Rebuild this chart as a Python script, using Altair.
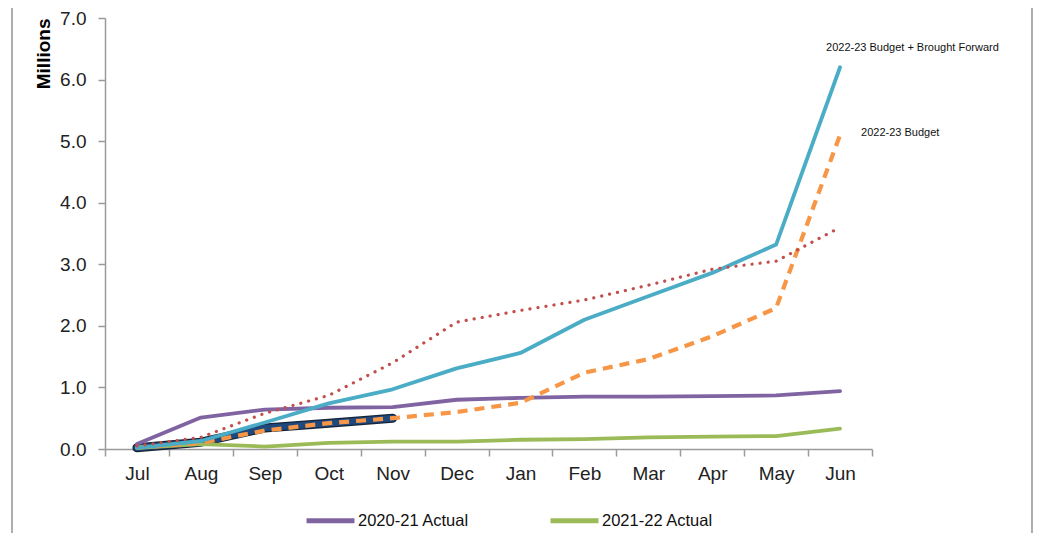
import altair as alt
import pandas as pd

months = ["Jul", "Aug", "Sep", "Oct", "Nov", "Dec", "Jan", "Feb", "Mar", "Apr", "May", "Jun"]

actual_2020_21 = [0.08, 0.51, 0.64, 0.67, 0.68, 0.80, 0.83, 0.85, 0.85, 0.86, 0.87, 0.94]
actual_2021_22 = [0.02, 0.08, 0.04, 0.10, 0.12, 0.12, 0.15, 0.16, 0.19, 0.20, 0.21, 0.33]
budget_bf_2022_23 = [0.02, 0.13, 0.43, 0.74, 0.97, 1.31, 1.56, 2.10, 2.48, 2.86, 3.32, 6.20]
budget_2022_23 = [0.02, 0.10, 0.30, 0.42, 0.50, 0.60, 0.75, 1.24, 1.46, 1.83, 2.29, 5.10]
forecast_2022_23 = [0.05, 0.19, 0.58, 0.87, 1.40, 2.06, 2.25, 2.42, 2.66, 2.92, 3.05, 3.60]
actual_2022_23 = [0.02, 0.11, 0.34, 0.42, 0.50]

series_names = ["2020-21 Actual", "2021-22 Actual", "2022-23 Actual",
                "2022-23 Budget", "2022-23 Budget + Brought Forward", "2022-23 Forecast"]
series_colors = ["#8064A2", "#9BBB59", "#1F497D", "#F79646", "#4BACC6", "#C0504D"]

label_names = ["2022-23 Budget + Brought Forward", "2022-23 Budget"]
label_values = [6.52, 5.13]
label_months = ["Jun", "Jun"]
label_dx = [-14, 21]

def frame(name, values):
    return pd.DataFrame({"month": months[:len(values)], "value": values, "series": name})

FONT = "Liberation Sans"
color = alt.Color("series:N",
                  scale=alt.Scale(domain=series_names, range=series_colors),
                  legend=alt.Legend(values=["2020-21 Actual", "2021-22 Actual"],
                                    title=None, orient="none", direction="horizontal",
                                    legendX=199, legendY=476,
                                    symbolType="stroke", symbolSize=2300,
                                    symbolStrokeWidth=5, labelFontSize=16.5,
                                    labelFont=FONT, labelColor="#111111",
                                    columnPadding=71, labelOffset=1))

x = alt.X("month:N", sort=months, title=None,
          scale=alt.Scale(domain=months, paddingInner=0, paddingOuter=0),
          axis=alt.Axis(labelAngle=0, tickBand="extent", labelFontSize=19,
                        labelFont=FONT, labelColor="#222222", labelPadding=8,
                        domainColor="#9a9a9a", tickColor="#9a9a9a", tickSize=7,
                        domainWidth=1.5, tickWidth=1.5))
y = alt.Y("value:Q", title="Millions",
          scale=alt.Scale(domain=[0, 7], nice=False),
          axis=alt.Axis(values=[0, 1, 2, 3, 4, 5, 6, 7], format=".1f", grid=False,
                        labelFontSize=19, labelFont=FONT, labelColor="#222222",
                        labelPadding=12, domainColor="#9a9a9a", tickColor="#9a9a9a",
                        tickSize=7, domainWidth=1.5, tickWidth=1.5,
                        titleFont=FONT, titleFontSize=19, titleFontWeight="bold",
                        titleColor="#000000", titleAnchor="end",
                        titlePadding=6))

def line(name, values, width, dash=None, col=None, cap="round"):
    kw = dict(strokeWidth=width, strokeCap=cap, strokeJoin="round")
    if dash:
        kw["strokeDash"] = dash
    enc = dict(x=x, y=y, color=color)
    if col:
        enc["color"] = alt.value(col)
    return alt.Chart(frame(name, values)).mark_line(**kw).encode(**enc)

layers = [
    line("2022-23 Actual", actual_2022_23, 9, col="#15243a"),
    line("2022-23 Actual", actual_2022_23, 6.5),
    line("2021-22 Actual", actual_2021_22, 3.8),
    line("2020-21 Actual", actual_2020_21, 3.8),
    line("2022-23 Budget", budget_2022_23, 4.2, dash=[10, 7], cap="butt"),
    line("2022-23 Budget + Brought Forward", budget_bf_2022_23, 3.8),
    line("2022-23 Forecast", forecast_2022_23, 3.2, dash=[0.1, 8]),
]

text_layers = []
for name, val, mon, dx in zip(label_names, label_values, label_months, label_dx):
    df = pd.DataFrame({"month": [mon], "value": [val], "text": [name]})
    text_layers.append(
        alt.Chart(df).mark_text(align="left", baseline="middle", fontSize=11, dx=dx,
                                font=FONT, color="#111111").encode(x=x, y=y, text="text:N"))

borders = alt.Chart(pd.DataFrame({"b": [0]})).mark_rule(color="#777777", strokeWidth=1.2).encode(
    x=alt.value(-93), y=alt.value(-30), y2=alt.value(530))
borders2 = alt.Chart(pd.DataFrame({"b": [0]})).mark_rule(color="#777777", strokeWidth=1.2).encode(
    x=alt.value(927), y=alt.value(-30), y2=alt.value(530))

chart = alt.layer(*layers, *text_layers, borders, borders2).properties(
    width=767, height=431,
    background="white",
    autosize=alt.AutoSizeParams(type="none"),
    padding={"left": 97, "top": 10, "right": 167, "bottom": 84},
).configure_view(stroke=None)

chart.save("out.html", embed_options={"renderer": "svg", "actions": False})
